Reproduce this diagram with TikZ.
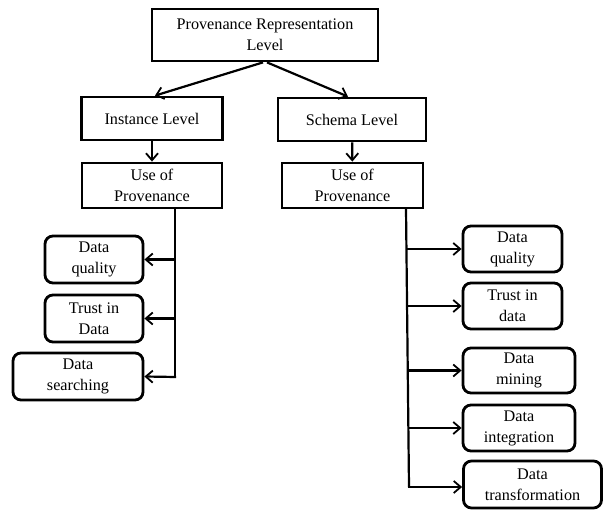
\documentclass[tikz,border=0pt]{standalone}
\usepackage{fontspec}
\setmainfont{Liberation Serif}
\usetikzlibrary{arrows.meta}
\begin{document}
\begin{tikzpicture}[x=1pt,y=-1pt,
  box/.style={draw,line width=2.8pt,align=center,inner sep=0pt,
    font=\fontsize{16.2}{21}\selectfont},
  leaf/.style={box,rounded corners=8pt},
  conn/.style={line width=2.2pt,-{Straight Barb[length=7pt,width=12pt,line width=1.8pt]}},
  trunk/.style={line width=2.2pt}]
\useasboundingbox (0,0) rectangle (603,511);
\node[box,minimum width=226pt,minimum height=52pt] (top) at (265,35) {Provenance Representation\\Level};
\node[box,minimum width=141pt,minimum height=43pt] (inst) at (152,118.5) {Instance Level};
\node[box,minimum width=148pt,minimum height=43pt] (schema) at (352,119.5) {Schema Level};
\node[box,minimum width=140pt,minimum height=45pt] (useL) at (152,185.5) {Use of\\Provenance};
\node[box,minimum width=141pt,minimum height=45pt] (useR) at (352.5,185.5) {Use of\\Provenance};
% left leaves
\node[leaf,minimum width=98pt,minimum height=47pt] (dqL) at (94,259.5) {Data\\quality};
\node[leaf,minimum width=98pt,minimum height=47pt] (trL) at (94,318.5) {Trust in\\Data};
\node[leaf,minimum width=130pt,minimum height=47pt] (dsL) at (78,376.5) {Data\\searching};
% right leaves
\node[leaf,minimum width=99pt,minimum height=46pt] (dqR) at (512.5,249) {Data\\quality};
\node[leaf,minimum width=99pt,minimum height=46pt] (trR) at (512.5,306) {Trust in\\data};
\node[leaf,minimum width=112pt,minimum height=45pt] (dmR) at (519,370.5) {Data\\mining};
\node[leaf,minimum width=112pt,minimum height=46pt] (diR) at (519,428) {Data\\integration};
\node[leaf,minimum width=138pt,minimum height=47pt] (dtR) at (532.5,484.5) {Data\\transformation};
% top connectors
\draw[conn] ([xshift=-2pt]top.south) -- ([xshift=3pt]inst.north);
\draw[conn] ([xshift=2pt]top.south) -- ([xshift=-4pt]schema.north);
\draw[conn] (inst) -- (useL);
\draw[conn] (schema) -- (useR);
% left trunk
\coordinate (lt) at (175,208);
\coordinate (lb) at (175,377);
\draw[trunk] (lt) -- (lb);
\draw[conn] (lt |- dqL.east) -- (dqL.east);
\draw[conn] (lt |- trL.east) -- (trL.east);
\draw[conn] ([xshift=1.1pt]lb) -- (dsL.east);
% right trunk
\coordinate (rt) at (406,208);
\coordinate (rb) at (409,487);
\draw[trunk] (rt) -- (rb);
\draw[conn] (406.9,249) -- (dqR.west);
\draw[conn] (407.6,306) -- (trR.west);
\draw[conn] (408.2,370.5) -- (dmR.west);
\draw[conn] (408.6,428) -- (diR.west);
\draw[conn] ([xshift=-1.1pt]rb) -- (rb -| dtR.west);
\end{tikzpicture}
\end{document}
